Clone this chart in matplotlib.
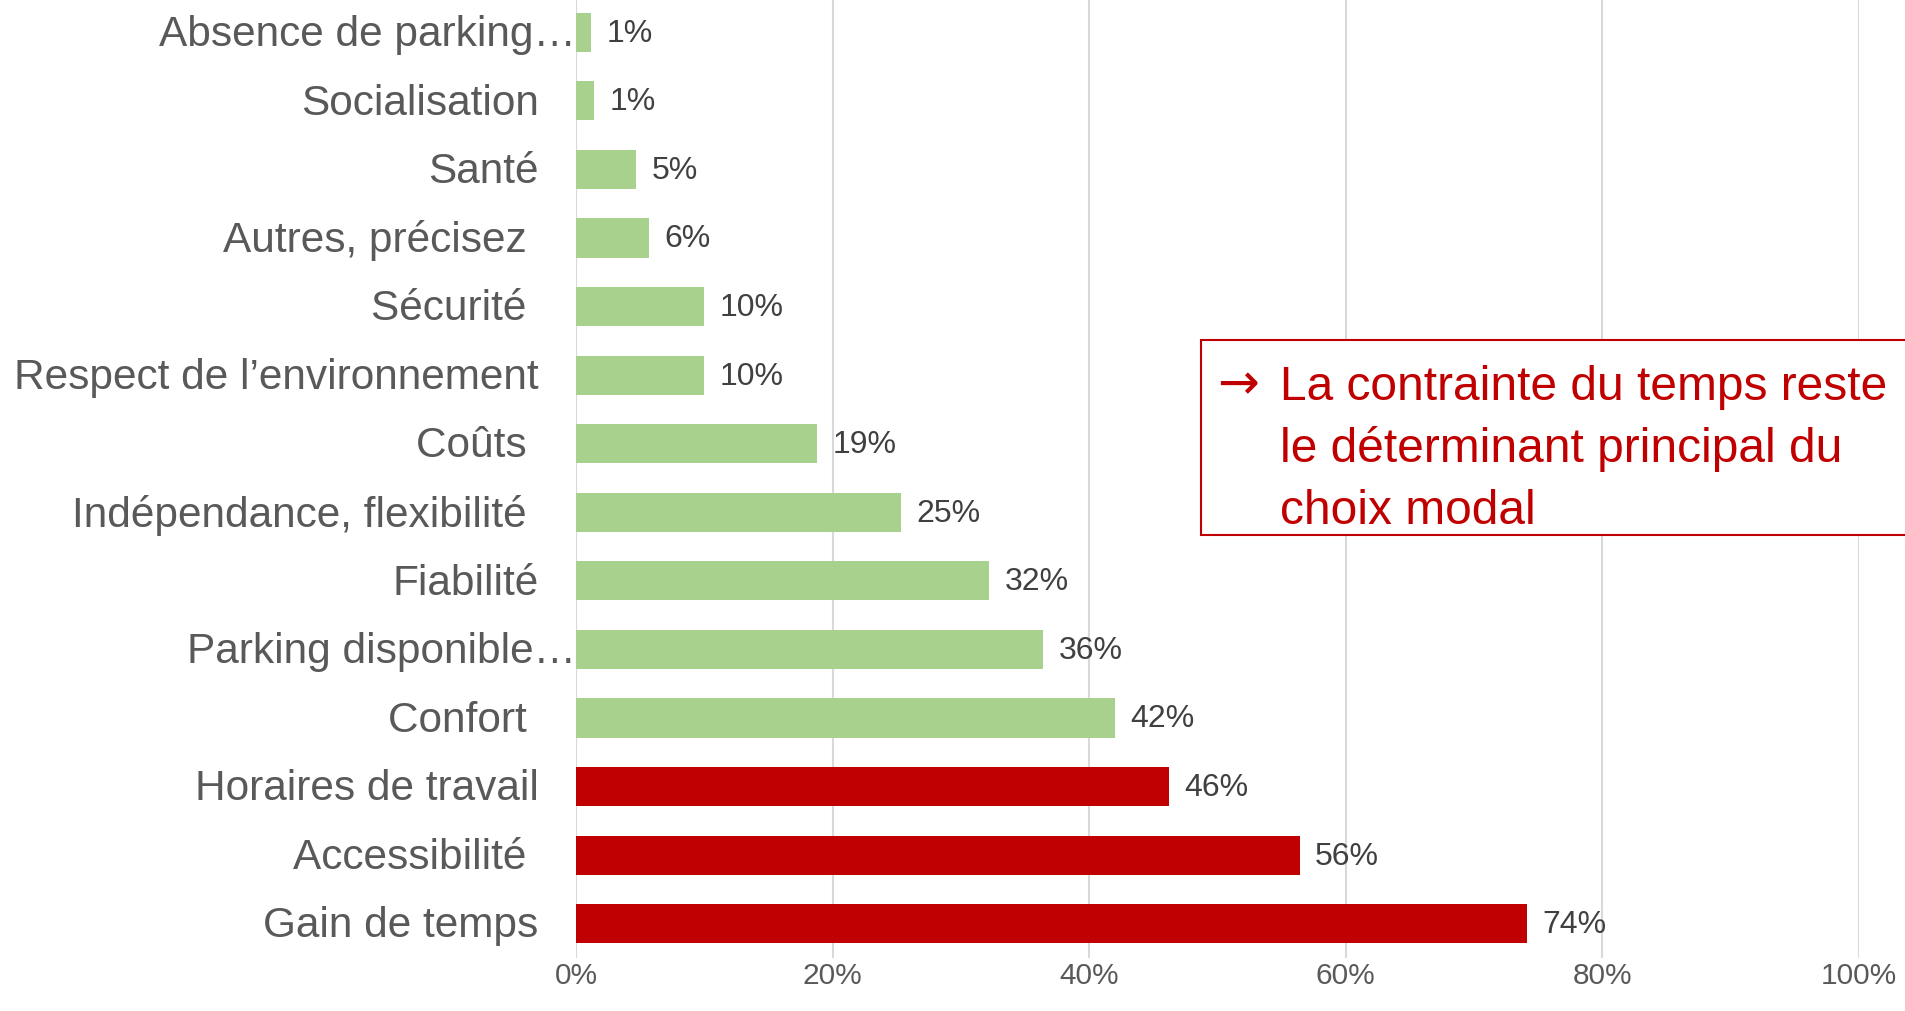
import matplotlib
matplotlib.use("Agg")
import matplotlib.pyplot as plt
from matplotlib.patches import Rectangle
from matplotlib.transforms import blended_transform_factory

plt.rcParams['font.family'] = ['Liberation Sans', 'DejaVu Sans']

# Data (bottom to top)
categories = ["Gain de temps", "Accessibilité ", "Horaires de travail", "Confort ",
              "Parking disponible…", "Fiabilité", "Indépendance, flexibilité ", "Coûts ",
              "Respect de l’environnement", "Sécurité ", "Autres, précisez ", "Santé",
              "Socialisation", "Absence de parking…"]
values = [0.741, 0.564, 0.462, 0.420, 0.364, 0.322, 0.253, 0.188,
          0.100, 0.100, 0.057, 0.047, 0.014, 0.012]
highlighted = [True, True, True, False, False, False, False, False,
               False, False, False, False, False, False]
xticks = [0, 0.2, 0.4, 0.6, 0.8, 1.0]
xtick_labels = ["0%", "20%", "40%", "60%", "80%", "100%"]
note_lines = ["La contrainte du temps reste", "le déterminant principal du", "choix modal"]

W, H = 1906, 1011
fig = plt.figure(figsize=(W / 100, H / 100), dpi=100)
ax = fig.add_axes([576 / W, 1 - 958 / H, 1283 / W, 960 / H])

red = "#C00000"
green = "#A9D18E"
colors = [red if h else green for h in highlighted]
ypos = list(range(len(categories)))
ax.barh(ypos, values, height=0.57, color=colors, zorder=3)

ax.set_xlim(0, 1.0)
ax.set_ylim(-0.5, len(categories) - 0.5)
ax.set_xticks(xticks)
ax.set_xticklabels(xtick_labels, fontsize=21.5, color="#595959")
ax.tick_params(axis='x', length=0, pad=3)
ax.set_yticks([])
ax.grid(axis='x', color="#D9D9D9", linewidth=1.5, zorder=0)
for s in ax.spines.values():
    s.set_visible(False)

# category labels
trans = blended_transform_factory(ax.transAxes, ax.transData)
for y, lab in zip(ypos, categories):
    dx = 0 if lab.endswith("…") else -27
    ax.annotate(lab, xy=(0, y), xycoords=trans, xytext=(dx, -2), textcoords="offset points",
                ha="right", va="center", fontsize=30.5, color="#595959")

# data labels
for y, v in zip(ypos, values):
    ax.annotate(f"{round(v * 100):d}%", xy=(v, y), xytext=(11, -1), textcoords="offset points",
                ha="left", va="center", fontsize=23, color="#404040", zorder=4)

# note box
fig.patches.append(Rectangle((1201 / W, 1 - 535 / H), 800 / W, 195 / H,
                             transform=fig.transFigure, fill=True, facecolor="white",
                             edgecolor=red, linewidth=1.5, zorder=5))
fig.text(1217 / W, 1 - 385 / H, "→", fontsize=36, color=red, ha="left", va="center",
         family=["DejaVu Sans"], zorder=6)
for i, line in enumerate(note_lines):
    fig.text(1280 / W, 1 - (388 + 61.5 * i) / H, line, fontsize=34.5, color=red,
             ha="left", va="center", zorder=6)

fig.savefig("out.png", dpi=100)
